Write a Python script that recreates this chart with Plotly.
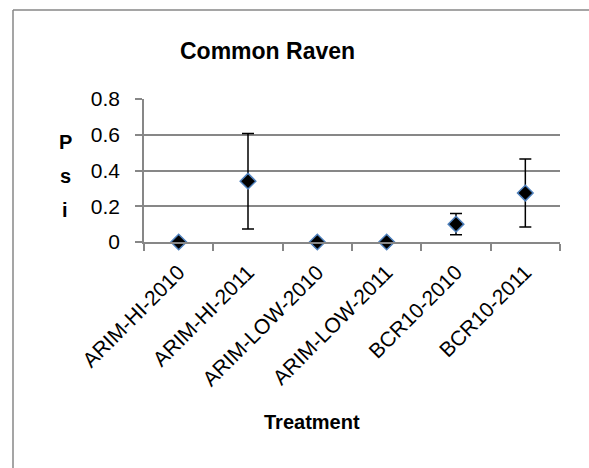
import plotly.graph_objects as go

# Occupancy estimates (Psi) per treatment, with symmetric error bars
treatments = ["ARIM-HI-2010", "ARIM-HI-2011", "ARIM-LOW-2010",
              "ARIM-LOW-2011", "BCR10-2010", "BCR10-2011"]
psi = [0.0, 0.34, 0.0, 0.0, 0.10, 0.274]
psi_err = [0.0, 0.267, 0.0, 0.0, 0.06, 0.19]
y_ticks = [0, 0.2, 0.4, 0.6, 0.8]
y_tick_text = ["0", "0.2", "0.4", "0.6", "0.8"]

W, H = 589, 468
L, R, T, B = 144, 29, 99, 226
FONT = "Liberation Sans Narrow, Arial Narrow, Liberation Sans, Arial"
GRID = "#878787"

fig = go.Figure()
fig.add_trace(go.Scatter(
    x=treatments, y=psi, mode="markers",
    marker=dict(symbol="diamond", size=12, color="black",
                line=dict(color="#4f81bd", width=1.5)),
    error_y=dict(type="data", array=psi_err, visible=True,
                 color="black", thickness=1.5, width=6),
    cliponaxis=False, showlegend=False,
))

pw = W - L - R
ph = H - T - B


def px_x(v):
    return (v - L) / pw


def px_y(v):
    return (H - B - v) / ph


def label(text, x, y, size):
    return dict(text=text, xref="paper", yref="paper",
                x=px_x(x), y=px_y(y), xanchor="center", yanchor="middle",
                showarrow=False, font=dict(size=size, family=FONT))


def frame_line(x0, y0, x1, y1):
    return dict(type="line", xref="paper", yref="paper",
                x0=px_x(x0), y0=px_y(y0), x1=px_x(x1), y1=px_y(y1),
                line=dict(color=GRID, width=1.5), layer="below")


fig.update_layout(
    width=W, height=H,
    margin=dict(l=L, r=R, t=T, b=B, pad=0),
    paper_bgcolor="white", plot_bgcolor="white",
    font=dict(family=FONT, color="black"),
    xaxis=dict(
        type="category", showgrid=False, zeroline=False,
        showline=True, linecolor=GRID, linewidth=1.5,
        ticks="outside", tickson="boundaries", ticklen=7,
        tickcolor=GRID, tickwidth=1.5, ticklabelstandoff=8,
        tickangle=-45, tickfont=dict(size=21, family=FONT),
        range=[-0.5, 5.5],
    ),
    yaxis=dict(
        range=[0, 0.8], tickvals=y_ticks, ticktext=y_tick_text,
        showgrid=True, gridcolor=GRID, gridwidth=1.5,
        zeroline=False, showline=True, linecolor=GRID, linewidth=1.5,
        ticks="outside", ticklen=7, tickcolor=GRID, tickwidth=1.5,
        ticklabelstandoff=11,
        tickfont=dict(size=21, family=FONT),
    ),
    shapes=[
        # outer chart frame: left and top edges
        frame_line(13, 10, 13, H),
        frame_line(13, 10, W, 10),
    ],
    annotations=[
        label("<b>Common Raven</b>", 267, 51, 23),
        label("<b>P</b>", 65, 142, 20),
        label("<b>s</b>", 65, 176, 20),
        label("<b>i</b>", 65, 210, 20),
        label("<b>Treatment</b>", 312, 422, 20),
    ],
)

fig.write_html("out.html")
